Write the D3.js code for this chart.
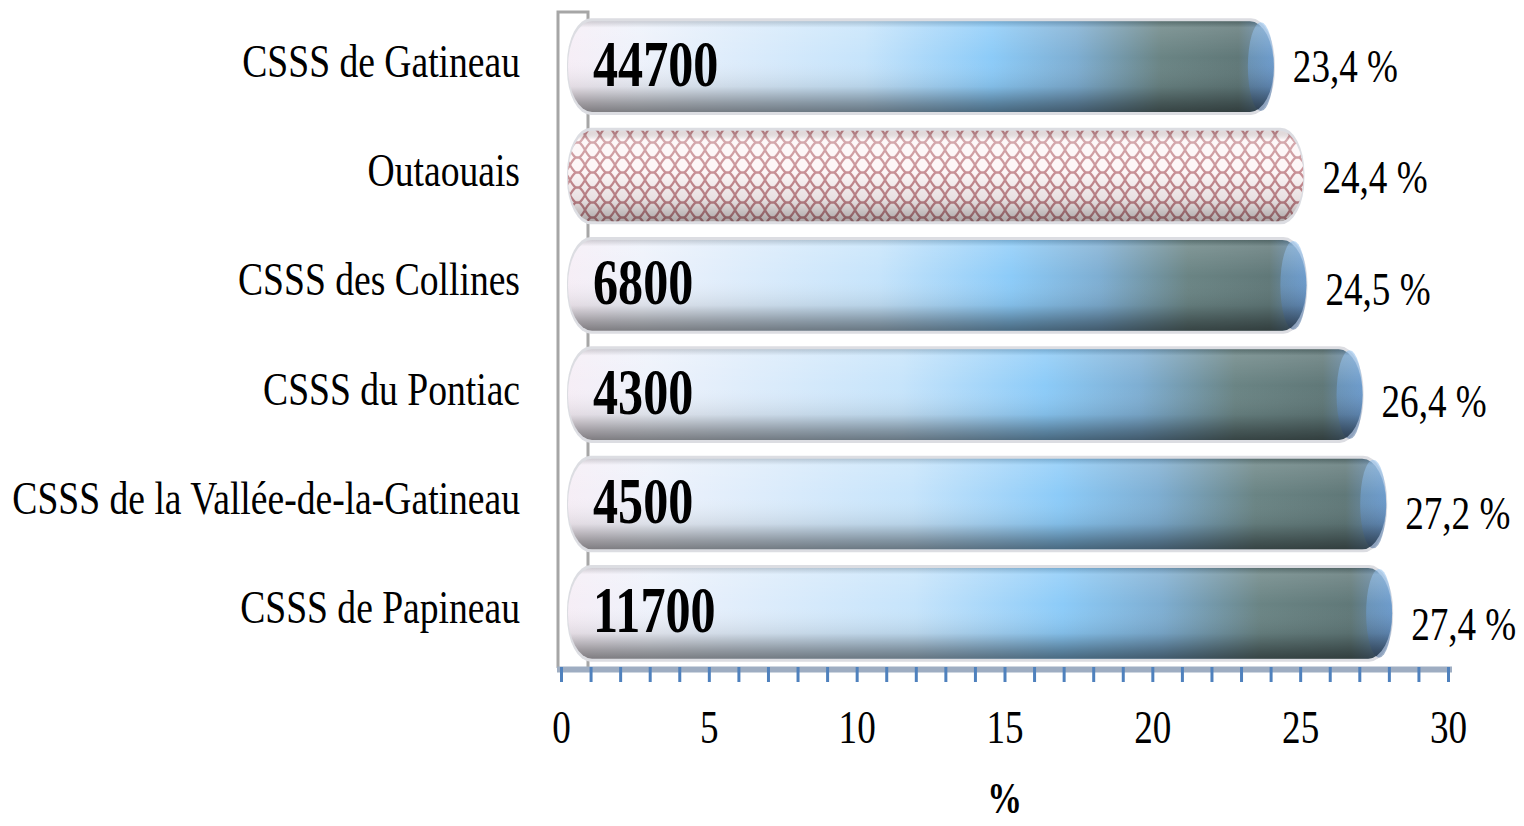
<html>
  <head>
    <title>CSSS - pourcentage</title>
    <script type="text/javascript" src="https://cdn.jsdelivr.net/npm/d3@7" charset="utf-8"></script>
    <style>
      body { margin: 0; background: #fff; }
      text { font-family: "Liberation Serif", "Times New Roman", serif; }
    </style>
  </head>
  <body>
    <div id="main"></div>
  <script>
    // data
    var categories = ["CSSS de Gatineau", "Outaouais", "CSSS des Collines", "CSSS du Pontiac",
                      "CSSS de la Vallée-de-la-Gatineau", "CSSS de Papineau"];
    var percentages = [23.4, 24.4, 24.5, 26.4, 27.2, 27.4];
    var populations = [44700, null, 6800, 4300, 4500, 11700];
    var tickValues = d3.range(0, 31, 1);
    var tickLabels = [0, 5, 10, 15, 20, 25, 30];
    var patternIndex = 1; // Outaouais drawn with the hatched pattern

    var svgWidth = 1524;
    var svgHeight = 826;
    var squeeze = 0.79; // the original text is horizontally condensed

    var svg = d3.select("#main")
      .append("svg")
      .attr("width", svgWidth)
      .attr("height", svgHeight);

    var x = d3.scaleLinear().domain([0, 30]).range([561, 1448]);
    var y = d3.scaleBand().domain(categories).range([12, 668]);
    var barH = y.bandwidth() * 0.83;
    var shift3d = 21; // depth offset of the cylinders

    var defs = svg.append("defs");

    // horizontal colour of the blue cylinders
    var hGrad = defs.append("linearGradient").attr("id", "hGrad")
      .attr("x1", 0).attr("x2", 1).attr("y1", 0).attr("y2", 0);
    [[0, "#f6eef6"], [0.1, "#eef2fb"], [0.42, "#c6e4fb"], [0.6, "#8ccbf8"],
     [0.72, "#7eaed2"], [0.84, "#6a8484"], [0.95, "#607878"], [1, "#6790bb"]]
      .forEach(function(s) {
        hGrad.append("stop").attr("offset", s[0]).attr("stop-color", s[1]);
      });

    // vertical shading shared by all bars
    var vGrad = defs.append("linearGradient").attr("id", "vGrad")
      .attr("x1", 0).attr("x2", 0).attr("y1", 0).attr("y2", 1);
    [[0, "#000", 0.15], [0.07, "#fff", 0.15], [0.4, "#fff", 0.0], [0.72, "#000", 0.08],
     [0.9, "#000", 0.35], [1, "#000", 0.48]]
      .forEach(function(s) {
        vGrad.append("stop").attr("offset", s[0]).attr("stop-color", s[1]).attr("stop-opacity", s[2]);
      });

    var vGradLight = defs.append("linearGradient").attr("id", "vGradLight")
      .attr("x1", 0).attr("x2", 0).attr("y1", 0).attr("y2", 1);
    [[0, "#000", 0.1], [0.1, "#fff", 0.3], [0.45, "#fff", 0.1], [0.75, "#000", 0.08],
     [1, "#000", 0.32]]
      .forEach(function(s) {
        vGradLight.append("stop").attr("offset", s[0]).attr("stop-color", s[1]).attr("stop-opacity", s[2]);
      });

    var capGrad = defs.append("linearGradient").attr("id", "capGrad")
      .attr("x1", 0).attr("x2", 0).attr("y1", 0).attr("y2", 1);
    [[0, "#8dbfee"], [0.5, "#6d9fd4"], [1, "#4b6c98"]]
      .forEach(function(s) {
        capGrad.append("stop").attr("offset", s[0]).attr("stop-color", s[1]);
      });

    // red weave pattern for the regional bar
    var pat = defs.append("pattern").attr("id", "weave")
      .attr("patternUnits", "userSpaceOnUse")
      .attr("width", 15).attr("height", 15);
    pat.append("rect").attr("width", 15).attr("height", 15).attr("fill", "#fdf5f6");
    pat.append("path")
      .attr("d", "M0,0 Q5,9 7.5,7.5 Q10,6 15,15 M15,0 Q10,9 7.5,7.5 Q5,6 0,15")
      .attr("fill", "none").attr("stroke", "#c4868c").attr("stroke-width", 2.2);

    // 3D wall edges
    svg.append("path")
      .attr("d", "M" + (x(0) - 3) + "," + y.range()[1] + " V" + y.range()[0] +
                 " H" + (x(0) + 27) + " V" + y.range()[1])
      .attr("fill", "none")
      .attr("stroke", "#a6a6a6")
      .attr("stroke-width", 3);

    var rows = categories.map(function(c, i) {
      return { name: c, pct: percentages[i], pop: populations[i], i: i };
    });

    var bars = svg.selectAll("g.bar")
      .data(rows)
      .enter()
      .append("g")
      .attr("class", "bar");

    function bx(d) { return x(0) + 7; }
    function bw(d) { return x(d.pct) + shift3d - x(0) - 7; }
    function by(d) { return y(d.name) + (y.bandwidth() - barH) / 2; }

    // soft gray shadow behind
    bars.append("rect")
      .attr("x", function(d) { return bx(d) - 1; })
      .attr("y", function(d) { return by(d) - 3; })
      .attr("width", function(d) { return bw(d) + 2; })
      .attr("height", barH + 6)
      .attr("rx", 24).attr("ry", barH / 2)
      .attr("fill", "#dcdde2");

    bars.append("rect")
      .attr("x", bx)
      .attr("y", by)
      .attr("width", bw)
      .attr("height", barH)
      .attr("rx", 24).attr("ry", barH / 2)
      .attr("fill", function(d) { return d.i === patternIndex ? "url(#weave)" : "url(#hGrad)"; });

    // right end cap
    bars.filter(function(d) { return d.i !== patternIndex; })
      .append("ellipse")
      .attr("cx", function(d) { return bx(d) + bw(d) - 13; })
      .attr("cy", function(d) { return by(d) + barH / 2; })
      .attr("rx", 13)
      .attr("ry", barH / 2 - 1)
      .attr("fill", "url(#capGrad)")
      .attr("opacity", 0.55);

    bars.append("rect")
      .attr("x", bx)
      .attr("y", by)
      .attr("width", bw)
      .attr("height", barH)
      .attr("rx", 24).attr("ry", barH / 2)
      .attr("fill", function(d) { return d.i === patternIndex ? "url(#vGradLight)" : "url(#vGrad)"; });

    // population inside the bar
    bars.filter(function(d) { return d.pop !== null; })
      .append("text")
      .attr("transform", function(d) {
        return "translate(" + (x(0) + 32) + "," + (y(d.name) + y.bandwidth() / 2 + 19) + ") scale(0.76,1)";
      })
      .attr("font-size", 66)
      .attr("font-weight", "bold")
      .attr("fill", "#000")
      .text(function(d) { return d.pop; });

    // percentage to the right
    var fmt = d3.format(".1f");
    bars.append("text")
      .attr("transform", function(d) {
        return "translate(" + (x(d.pct) + shift3d + 19) + "," + (y(d.name) + y.bandwidth() / 2 + 15 + 2.4 * d.i) + ") scale(" + squeeze + ",1)";
      })
      .attr("font-size", 47)
      .attr("fill", "#000")
      .text(function(d) { return fmt(d.pct).replace(".", ",") + " %"; });

    // category names
    svg.selectAll("text.cat")
      .data(categories)
      .enter()
      .append("text")
      .attr("class", "cat")
      .attr("transform", function(d) {
        return "translate(520," + (y(d) + y.bandwidth() / 2 + 10) + ") scale(0.8,1)";
      })
      .attr("text-anchor", "end")
      .attr("font-size", 47)
      .attr("fill", "#000")
      .text(function(d) { return d; });

    // x axis
    var axisY = y.range()[1] - 1;
    svg.append("line")
      .attr("x1", x(0) - 4).attr("x2", x(30) + 4)
      .attr("y1", axisY + 2.5).attr("y2", axisY + 2.5)
      .attr("stroke", "#9eadc2")
      .attr("stroke-width", 6);

    var xAxis = d3.axisBottom(x)
      .tickValues(tickValues)
      .tickSize(15)
      .tickSizeOuter(0)
      .tickFormat(function(v) { return tickLabels.indexOf(v) >= 0 ? v : ""; });

    var gx = svg.append("g")
      .attr("transform", "translate(0," + axisY + ")")
      .call(xAxis);
    gx.select(".domain").remove();
    gx.selectAll(".tick line")
      .attr("stroke", "#4f81bd")
      .attr("stroke-width", 3);
    gx.selectAll(".tick text")
      .attr("y", 76)
      .attr("dy", 0)
      .attr("transform", "scale(" + squeeze + ",1)")
      .attr("font-family", "'Liberation Serif', serif")
      .attr("font-size", 47)
      .attr("fill", "#000");

    // axis title
    svg.append("text")
      .attr("transform", "translate(" + ((x(0) + x(30)) / 2) + ",813) scale(" + squeeze + ",1)")
      .attr("text-anchor", "middle")
      .attr("font-size", 44)
      .attr("font-weight", "bold")
      .text("%");
  </script>
  </body>
</html>
